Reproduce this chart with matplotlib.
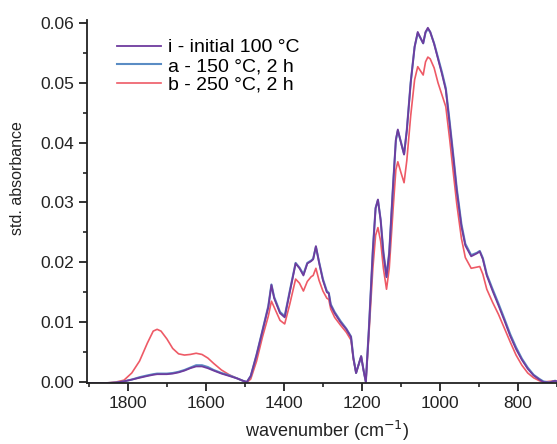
import numpy as np
import matplotlib
matplotlib.use('Agg')
import matplotlib.pyplot as plt
from matplotlib.ticker import MultipleLocator

plt.rcParams['font.family'] = ['Liberation Sans', 'DejaVu Sans']

wavenumber = [1905, 1860, 1830, 1810, 1790, 1770, 1750, 1735, 1725, 1715, 1700, 1685, 1670,
              1655, 1640, 1625, 1610, 1595, 1580, 1560, 1540, 1520, 1505, 1495, 1485, 1470,
              1455, 1440, 1432, 1425, 1410, 1398, 1385, 1370, 1360, 1350, 1340, 1330, 1325,
              1318, 1310, 1300, 1290, 1285, 1280, 1270, 1255, 1240, 1228, 1222, 1215, 1208,
              1202, 1196, 1190, 1182, 1172, 1165, 1159, 1152, 1145, 1137, 1130, 1120, 1113,
              1108, 1100, 1092, 1085, 1075, 1065, 1057, 1050, 1043, 1037, 1031, 1025, 1015,
              1005, 995, 985, 975, 965, 957, 945, 935, 920, 905, 898, 890, 880, 865, 850,
              835, 820, 805, 790, 775, 760, 745, 735, 720, 705, 700]

initial_100 = [-0.0002, -0.0002, -0.0001, 0.0001, 0.0004, 0.0007, 0.0010, 0.0012, 0.0013, 0.0013,
               0.0013, 0.0014, 0.0016, 0.0019, 0.0023, 0.0026, 0.0026, 0.0023, 0.0019, 0.0014,
               0.0010, 0.0006, 0.0002, 0.0000, 0.0010, 0.0045, 0.0085, 0.0125, 0.0162, 0.0140,
               0.0115, 0.0108, 0.0150, 0.0198, 0.0190, 0.0178, 0.0198, 0.0202, 0.0205, 0.0227,
               0.0200, 0.0170, 0.0150, 0.0148, 0.0128, 0.0115, 0.0100, 0.0088, 0.0075, 0.0040,
               0.0015, 0.0030, 0.0043, 0.0020, 0.0000, 0.0090, 0.0220, 0.0290, 0.0305, 0.0270,
               0.0215, 0.0175, 0.0215, 0.0330, 0.0405, 0.0422, 0.0400, 0.0380, 0.0420, 0.0500,
               0.0560, 0.0585, 0.0575, 0.0566, 0.0585, 0.0592, 0.0585, 0.0565, 0.0540, 0.0515,
               0.0488, 0.0430, 0.0370, 0.0320, 0.0260, 0.0228, 0.0210, 0.0215, 0.0218, 0.0205,
               0.0178, 0.0152, 0.0128, 0.0103, 0.0077, 0.0055, 0.0037, 0.0022, 0.0011, 0.0004,
               0.0000, -0.0001, 0.0002, 0.0001]

a_150 = [-0.0002, -0.0002, -0.0001, 0.0001, 0.0004, 0.0008, 0.0011, 0.0013, 0.0014, 0.0014,
         0.0014, 0.0015, 0.0017, 0.0020, 0.0024, 0.0028, 0.0028, 0.0025, 0.0020, 0.0015,
         0.0011, 0.0006, 0.0002, 0.0000, 0.0010, 0.0046, 0.0086, 0.0127, 0.0163, 0.0142,
         0.0117, 0.0110, 0.0152, 0.0199, 0.0191, 0.0180, 0.0199, 0.0203, 0.0206, 0.0226,
         0.0201, 0.0172, 0.0152, 0.0149, 0.0130, 0.0117, 0.0102, 0.0089, 0.0076, 0.0041,
         0.0015, 0.0030, 0.0043, 0.0020, 0.0000, 0.0091, 0.0221, 0.0291, 0.0304, 0.0271,
         0.0217, 0.0177, 0.0217, 0.0331, 0.0404, 0.0420, 0.0401, 0.0381, 0.0421, 0.0501,
         0.0560, 0.0583, 0.0575, 0.0566, 0.0584, 0.0590, 0.0585, 0.0566, 0.0542, 0.0518,
         0.0491, 0.0434, 0.0374, 0.0324, 0.0264, 0.0231, 0.0212, 0.0216, 0.0219, 0.0207,
         0.0180, 0.0155, 0.0131, 0.0106, 0.0080, 0.0058, 0.0039, 0.0024, 0.0012, 0.0005,
         0.0001, -0.0001, 0.0002, 0.0001]

b_250 = [-0.0002, -0.0002, 0.0000, 0.0003, 0.0015, 0.0035, 0.0065, 0.0085, 0.0088, 0.0085,
         0.0072, 0.0056, 0.0047, 0.0045, 0.0046, 0.0048, 0.0046, 0.0040, 0.0031, 0.0020,
         0.0012, 0.0006, 0.0002, -0.0001, 0.0005, 0.0035, 0.0075, 0.0110, 0.0135, 0.0125,
         0.0103, 0.0097, 0.0130, 0.0172, 0.0165, 0.0152, 0.0168, 0.0176, 0.0178, 0.0190,
         0.0170, 0.0152, 0.0140, 0.0138, 0.0122, 0.0108, 0.0095, 0.0083, 0.0070, 0.0038,
         0.0015, 0.0030, 0.0043, 0.0020, 0.0000, 0.0080, 0.0190, 0.0245, 0.0258, 0.0235,
         0.0190, 0.0155, 0.0190, 0.0290, 0.0355, 0.0368, 0.0350, 0.0333, 0.0370, 0.0445,
         0.0505, 0.0527, 0.0520, 0.0513, 0.0535, 0.0543, 0.0540, 0.0525, 0.0500, 0.0480,
         0.0460, 0.0405, 0.0345, 0.0298, 0.0240, 0.0208, 0.0190, 0.0192, 0.0193, 0.0180,
         0.0155, 0.0133, 0.0113, 0.0090, 0.0067, 0.0045, 0.0028, 0.0015, 0.0007, 0.0002,
         0.0000, 0.0001, 0.0002, 0.0001]

labels = ['i - initial 100 °C', 'a - 150 °C, 2 h', 'b - 250 °C, 2 h']
colors = ['#6e3c9e', '#5a8cc4', '#ee5a66']

fig = plt.figure(figsize=(5.57, 4.44), dpi=100)
ax = fig.add_axes([0.156, 0.137, 0.844, 0.818])

ax.plot(wavenumber, b_250, color=colors[2], lw=1.2, label=labels[2])
ax.plot(wavenumber, a_150, color=colors[1], lw=1.5, label=labels[1])
ax.plot(wavenumber, initial_100, color=colors[0], lw=1.3, label=labels[0])

ax.set_xlim(1905, 700)
ax.set_ylim(-0.0002, 0.0605)
ax.xaxis.set_major_locator(MultipleLocator(200))
ax.xaxis.set_minor_locator(MultipleLocator(100))
ax.yaxis.set_major_locator(MultipleLocator(0.01))
ax.yaxis.set_minor_locator(MultipleLocator(0.005))
ax.yaxis.set_major_formatter(plt.FormatStrFormatter('%.2f'))

for s in ['top', 'right']:
    ax.spines[s].set_visible(False)
for s in ['left', 'bottom']:
    ax.spines[s].set_linewidth(1.3)
    ax.spines[s].set_color('#222222')
ax.tick_params(which='major', direction='out', length=6, width=1.3, labelsize=12.5,
               colors='#222222', pad=3)
ax.tick_params(which='minor', direction='out', length=3, width=1.2, colors='#222222')

ax.set_xlabel('wavenumber (cm$^{-1}$)', fontsize=13, color='#222222')
ax.xaxis.set_label_coords(0.51, -0.098)
ax.set_ylabel('std. absorbance', fontsize=11.5, color='#222222')
ax.yaxis.set_label_coords(-0.132, 0.565)

handles, labs = ax.get_legend_handles_labels()
ax.legend(handles[::-1], labs[::-1], loc='upper left', bbox_to_anchor=(0.064, 0.948),
          frameon=False, fontsize=14, handlelength=2.25, handletextpad=0.37,
          labelspacing=0.05, borderaxespad=0, borderpad=0)

fig.savefig('out.png', dpi=100)
